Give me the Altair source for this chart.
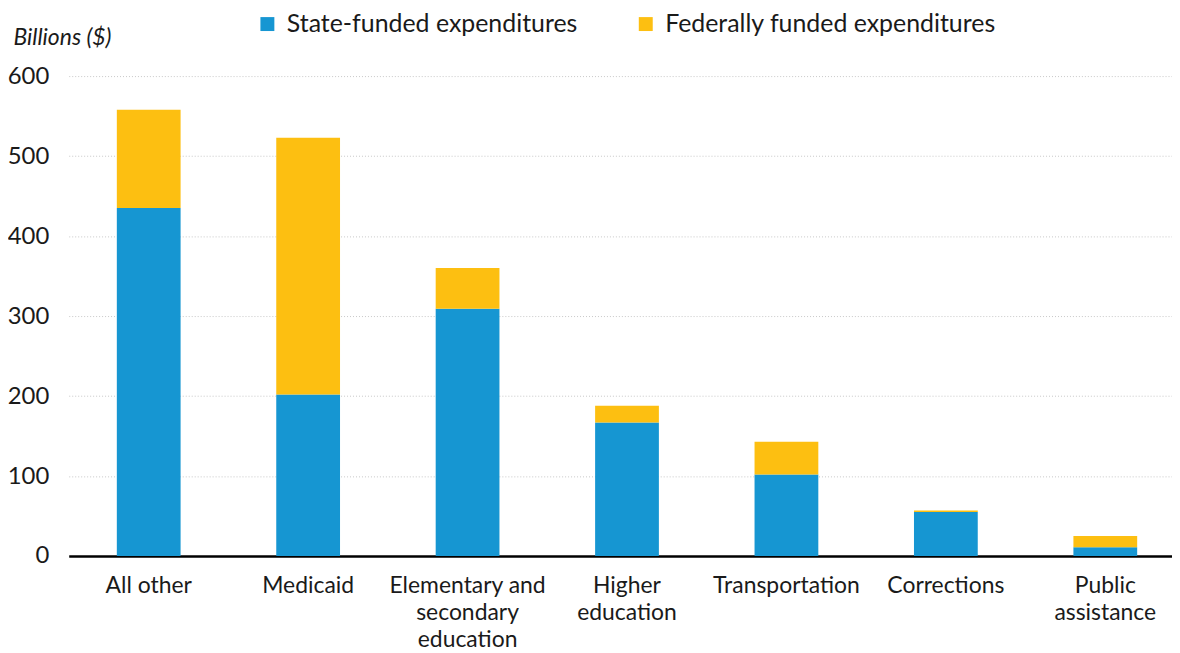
import altair as alt
import pandas as pd

categories = ["All other", "Medicaid", "Elementary and\nsecondary\neducation",
              "Higher\neducation", "Transportation", "Corrections", "Public\nassistance"]
state_funded = [435, 202, 309, 167, 102, 55, 11]
federal_funded = [123, 321, 51, 21, 41, 2, 14]
series = ["State-funded expenditures", "Federally funded expenditures"]
colors = ["#1696d2", "#fdbf11"]

rows = []
for c, s, f in zip(categories, state_funded, federal_funded):
    rows.append({"category": c, "series": series[0], "value": s, "ord": 0})
    rows.append({"category": c, "series": series[1], "value": f, "ord": 1})
df = pd.DataFrame(rows)

FONT = "Lato"

chart = alt.Chart(df).mark_bar().encode(
    x=alt.X("category:N", sort=categories,
            scale=alt.Scale(paddingInner=0.6, paddingOuter=0.26, align=0.58),
            axis=alt.Axis(title=None, labelAngle=0, labelExpr="split(datum.label, '\\n')",
                          labelFontSize=23, labelLineHeight=27, labelColor="#1a1a1a",
                          labelFont=FONT, ticks=False, labelPadding=19,
                          domainColor="#000000", domainWidth=2.5, grid=False,
                          labelBaseline="top")),
    y=alt.Y("value:Q", stack="zero",
            scale=alt.Scale(domain=[0, 600]),
            axis=alt.Axis(values=[0, 100, 200, 300, 400, 500, 600], title="Billions ($)",
                          titleAngle=0, titleAlign="left", titleBaseline="middle",
                          titleX=-56, titleY=-39, titleFont=FONT, titleFontSize=23,
                          titleFontStyle="italic", titleFontWeight="normal", titleColor="#1a1a1a",
                          labelFont=FONT, labelFontSize=24, labelColor="#1a1a1a",
                          labelPadding=20, ticks=False, domain=False,
                          grid=True, gridColor="#c8c8c8", gridDash=[1, 2], gridWidth=1)),
    color=alt.Color("series:N", sort=series,
                    scale=alt.Scale(domain=series, range=colors),
                    legend=alt.Legend(title=None, orient="none", direction="horizontal",
                                      legendX=187, legendY=-65, symbolType="square",
                                      symbolSize=196, symbolStrokeWidth=0, labelFont=FONT,
                                      labelFontSize=25, labelColor="#1a1a1a", labelOffset=7,
                                      columnPadding=55, labelLimit=600)),
    order=alt.Order("ord:Q", sort="ascending"),
).properties(
    width=1108, height=482,
    autosize=alt.AutoSizeParams(type="none"),
    padding={"left": 61, "top": 67, "right": 0, "bottom": 94},
).configure_view(stroke=None)

chart.save("out.html", embed_options={"renderer": "svg", "actions": False})
